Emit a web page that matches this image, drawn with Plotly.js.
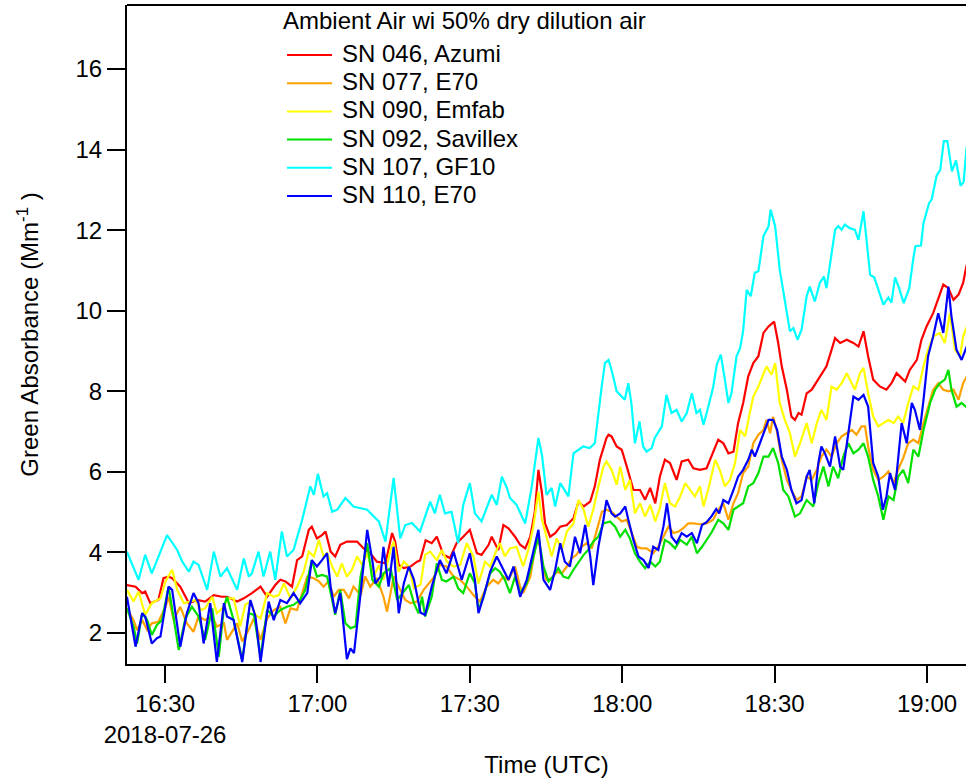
<!DOCTYPE html>
<html>
<head>
<meta charset="utf-8">
<script src="https://cdn.plot.ly/plotly-3.0.1.min.js"></script>
<style>html,body{margin:0;padding:0;background:#fff;}#chart{width:966px;height:779px;}</style>
</head>
<body>
<div id="chart"></div>
<script>
// Time axis: minutes after 2018-07-26 16:30 UTC
const baseTime = "2018-07-26 16:30:00";
const legendTitle = "Ambient Air wi 50% dry dilution air";
const seriesNames = ["SN 046, Azumi", "SN 077, E70", "SN 090, Emfab", "SN 092, Savillex", "SN 107, GF10", "SN 110, E70"];
const seriesColors = ["#ff0000", "#ffa200", "#ffff00", "#00e000", "#00ffff", "#0000ff"];

const sn046_t = [-7.5,-5.8,-4.5,-3.9,-2.9,-1.3,-0.3,0.7,1.4,3.0,4.7,6.3,7.9,9.6,11.2,12.2,14.2,15.5,17.1,18.8,20.1,21.7,22.7,23.7,25.0,26.0,27.0,28.3,28.9,29.9,30.9,31.6,32.6,33.5,34.5,35.8,37.8,39.1,40.4,41.7,43.4,44.7,45.3,46.0,47.0,48.3,49.6,50.2,51.3,52.5,53.5,54.8,56.1,57.4,58.7,60.0,61.4,62.3,63.7,64.3,65.6,66.6,67.6,68.9,69.9,70.9,71.9,72.8,73.5,74.2,74.8,75.8,76.8,77.8,79.1,80.4,81.4,82.4,83.7,84.6,85.6,86.9,87.3,87.9,88.9,89.9,90.9,92.2,93.5,94.5,95.5,96.5,97.4,98.4,99.4,100.7,101.7,103.0,104.0,105.3,106.6,107.6,108.9,109.9,110.9,111.9,112.8,113.8,114.8,115.8,116.8,117.8,118.8,119.9,120.7,121.4,122.4,123.3,124.0,124.7,125.3,126.3,127.3,128.3,129.2,130.2,131.2,131.9,132.9,134.2,135.5,136.5,137.5,138.4,139.4,140.7,142.0,143.0,144.0,144.7,145.7,146.6,148.0,148.9,149.9,151.2,152.2,153.2,154.2,155.2,156.2,157.1,157.8];
const sn046_v = [3.19,3.15,2.99,3.03,2.74,2.82,3.36,3.40,3.36,3.15,2.74,2.82,2.78,2.94,2.90,2.90,2.78,2.86,2.99,3.15,2.90,3.19,3.32,3.28,3.15,3.81,3.90,4.56,4.64,4.35,4.43,4.52,4.02,3.90,4.19,4.27,4.27,4.10,3.98,3.77,3.73,4.48,4.27,3.69,3.61,3.65,3.77,3.80,4.30,4.23,4.39,3.94,3.86,4.23,4.39,4.56,3.98,3.94,4.19,4.39,4.06,4.68,4.60,4.39,4.19,4.10,4.39,5.02,6.05,5.47,4.72,4.39,4.48,4.64,4.68,4.85,5.26,5.14,5.26,5.64,6.30,6.84,6.92,6.88,6.63,6.55,6.13,5.55,5.55,5.31,5.60,5.22,5.88,6.30,6.22,5.80,6.26,6.30,6.09,6.05,6.09,6.38,6.80,6.71,6.46,6.50,7.21,7.71,8.37,8.70,8.87,9.45,9.61,9.73,9.20,8.62,8.04,7.37,7.29,7.46,7.42,7.95,8.04,8.24,8.41,8.62,9.03,9.32,9.20,9.28,9.20,9.11,9.49,8.87,8.29,8.12,8.04,8.20,8.45,8.37,8.24,8.53,8.78,9.28,9.61,9.94,10.27,10.65,10.56,10.27,10.40,10.69,11.14];

const sn077_t = [-7.5,-6.2,-5.5,-4.5,-3.5,-2.6,-1.3,0.1,0.7,1.7,3.0,4.3,5.6,6.6,7.9,9.3,10.2,11.6,12.2,13.2,14.2,15.2,16.1,17.5,18.8,20.1,21.4,22.7,23.7,24.7,26.0,27.0,28.0,29.3,30.3,31.2,32.2,33.2,34.2,35.2,36.2,37.1,38.5,39.4,40.4,41.7,43.0,43.7,45.0,46.0,47.3,48.3,49.6,50.9,52.8,54.1,55.4,56.8,58.1,59.4,60.7,62.0,63.3,64.6,65.6,66.6,67.6,68.9,69.9,70.5,71.9,72.8,73.5,74.2,75.1,76.1,77.1,78.1,79.1,80.1,81.0,82.0,83.0,84.0,85.0,86.0,86.9,87.9,88.9,89.9,90.9,91.9,92.9,93.8,94.8,96.1,97.1,98.1,99.1,100.1,101.1,102.0,103.0,104.0,105.2,106.6,107.9,108.9,109.9,110.9,111.9,112.8,113.8,114.8,115.8,116.8,117.8,118.4,119.1,119.7,120.4,121.4,122.4,123.3,124.3,125.3,126.3,127.3,128.3,129.2,130.2,131.2,132.2,133.2,134.2,135.2,136.1,137.1,137.8,138.4,139.4,140.4,141.4,142.4,143.4,144.3,145.3,146.3,147.3,148.3,149.3,150.3,151.2,152.2,153.2,154.2,155.2,156.2,157.1,157.8];
const sn077_v = [2.61,2.32,2.07,2.32,2.07,2.24,2.28,2.65,2.90,2.32,2.65,2.24,2.03,2.41,2.32,2.41,2.16,2.24,1.83,2.03,2.24,1.79,1.99,2.36,1.83,2.36,2.57,2.65,2.24,2.61,2.57,2.99,3.40,3.36,3.28,3.15,3.28,2.90,3.07,3.07,2.86,3.15,2.94,3.40,3.15,3.36,2.90,2.53,3.40,3.15,2.82,2.74,2.78,3.07,3.36,3.69,3.65,3.40,3.32,3.15,2.94,2.78,3.15,3.32,3.23,3.40,3.32,3.65,3.15,2.99,3.40,4.06,4.39,3.73,3.32,3.36,3.52,3.48,3.65,3.86,3.94,4.14,4.23,4.10,4.56,5.01,5.06,5.01,4.89,4.77,4.81,4.48,4.14,4.10,4.10,3.98,4.14,4.39,4.64,4.48,4.52,4.60,4.72,4.72,4.70,4.72,4.81,5.06,5.22,4.81,5.22,5.47,5.97,6.13,6.71,6.92,7.04,7.29,6.96,7.37,7.04,6.30,5.80,5.55,5.30,5.39,5.88,5.80,6.05,6.38,6.55,6.38,6.71,6.88,6.96,7.04,6.92,7.13,7.13,6.63,6.05,5.80,5.88,6.01,5.72,6.05,6.34,6.71,6.80,6.71,7.21,7.62,8.04,8.20,8.04,8.00,8.04,7.79,8.20,8.37];

const sn090_t = [-7.5,-6.2,-5.2,-3.9,-2.6,-0.9,0.1,1.4,2.4,3.7,5.0,6.0,7.0,7.9,9.3,10.2,11.6,12.2,13.5,14.8,15.8,16.8,17.8,18.8,20.1,21.4,22.4,23.4,24.7,26.0,27.3,28.3,29.3,30.3,31.2,31.9,32.9,33.9,34.8,35.8,36.8,37.8,38.8,39.8,41.1,42.1,43.0,44.4,45.0,46.0,47.0,48.0,49.0,50.3,51.2,52.2,53.5,54.5,55.5,56.8,58.1,59.4,60.7,61.7,63.0,64.0,65.0,65.9,66.9,67.9,69.2,70.5,71.5,72.5,73.5,74.2,75.1,76.1,77.1,78.1,79.1,80.4,81.4,82.4,83.3,84.3,85.3,86.3,86.9,87.9,88.9,89.6,90.6,91.5,92.5,93.5,94.5,95.5,96.5,97.4,98.4,99.4,100.4,101.4,102.4,103.4,104.3,105.3,106.0,106.9,108.3,109.2,110.2,111.2,112.2,113.2,114.2,115.1,115.8,116.8,117.8,118.4,119.4,120.1,121.0,122.0,123.0,124.0,125.0,126.3,127.3,128.3,129.2,130.2,131.2,132.2,133.2,134.2,134.8,135.8,136.8,137.5,138.4,139.4,140.4,141.4,142.4,143.4,144.3,145.3,146.3,147.3,148.3,149.3,150.2,151.2,152.5,153.5,154.5,155.5,156.5,157.1,157.8];
const sn090_v = [3.07,2.78,3.03,2.45,2.74,2.86,3.28,3.57,3.07,2.74,2.78,2.82,2.57,2.61,2.90,2.49,2.65,2.86,2.86,2.16,2.70,2.78,2.45,2.36,2.99,2.90,2.94,3.23,2.86,3.15,3.52,4.02,3.90,4.31,3.90,3.98,3.65,3.40,3.73,3.40,3.57,3.90,3.69,3.98,3.40,3.69,3.32,4.06,4.27,3.52,3.77,3.65,3.11,3.20,3.94,4.02,3.81,4.06,3.77,3.65,3.69,4.23,3.90,3.23,3.77,3.65,3.98,4.23,3.90,4.10,4.14,3.65,4.06,4.64,5.51,4.81,4.39,3.90,4.35,4.06,4.52,4.72,5.30,5.06,4.64,5.06,5.64,6.13,6.26,6.05,5.68,6.13,5.55,5.80,4.97,5.22,4.89,5.18,4.77,5.10,5.72,5.22,5.14,5.39,5.72,5.55,5.39,5.64,5.14,5.55,6.30,6.05,5.64,5.80,6.22,7.04,6.88,7.46,7.87,8.12,8.45,8.62,8.41,8.70,7.71,7.29,6.96,6.38,6.71,7.21,6.71,7.21,7.54,7.29,8.12,8.04,8.20,8.45,8.29,8.04,8.45,8.58,7.95,7.37,7.13,7.21,7.29,7.21,7.37,7.21,7.71,8.12,8.04,8.62,9.03,9.36,9.45,9.20,9.94,9.03,8.87,9.36,9.60];

const sn092_t = [-7.5,-6.2,-5.5,-4.5,-3.5,-2.6,-1.6,-0.6,0.7,1.7,2.7,4.0,5.3,6.6,7.9,9.3,10.6,11.6,12.2,13.5,15.2,16.5,17.5,18.8,20.1,21.4,22.7,24.0,25.3,26.6,27.6,28.9,29.9,30.9,31.9,32.9,33.5,34.5,35.5,36.5,37.5,38.5,39.8,40.8,42.1,43.0,44.4,45.7,46.7,48.0,49.0,49.9,50.6,51.2,52.5,53.5,54.5,55.4,56.8,57.7,58.7,60.0,61.0,61.7,62.7,64.0,65.0,65.9,66.9,67.9,68.9,69.9,71.2,72.5,73.5,74.5,75.5,76.4,77.4,78.4,79.4,80.4,81.4,82.4,83.3,84.3,85.3,86.3,87.6,88.6,89.6,90.6,91.5,92.5,93.5,94.5,95.5,96.5,97.4,98.4,99.4,100.4,101.4,102.7,103.7,104.7,105.7,106.6,107.6,108.9,109.9,110.9,111.9,112.8,113.8,114.8,115.8,116.8,117.8,118.8,119.7,120.7,121.7,122.7,124.0,125.0,126.3,127.6,128.6,129.6,130.6,131.5,132.5,133.5,134.5,135.5,136.5,137.5,138.4,139.4,140.4,141.4,142.4,143.4,144.3,145.3,146.3,147.3,148.3,149.3,150.6,151.6,152.5,153.5,154.2,154.8,155.8,156.8,157.8];
const sn092_v = [2.61,2.16,1.74,2.49,2.32,1.95,2.20,2.32,3.15,2.41,1.58,2.36,2.65,2.41,1.83,2.61,1.41,2.65,2.90,2.32,1.33,2.49,2.45,1.41,2.57,2.41,2.57,2.65,2.70,2.82,3.07,3.81,3.40,3.44,3.40,2.82,2.45,3.07,2.24,2.12,2.16,3.40,4.23,3.32,3.15,3.48,3.61,2.82,2.99,3.19,2.74,2.49,2.90,2.41,2.90,3.73,3.32,3.28,3.40,3.11,2.99,3.48,3.23,2.57,2.90,3.48,3.61,3.52,3.32,2.99,3.40,2.99,3.23,3.90,4.39,3.65,3.28,3.40,3.61,3.40,3.36,3.57,3.77,3.94,4.06,4.27,4.39,4.72,4.77,4.64,4.39,4.56,4.35,3.98,3.77,3.61,3.77,3.65,3.77,4.31,4.23,4.10,4.31,4.19,4.39,3.98,4.14,4.31,4.50,4.81,4.72,4.56,5.06,5.14,5.22,5.64,5.72,5.97,6.38,6.38,6.59,6.22,5.55,5.39,4.89,4.97,5.30,5.14,5.72,6.13,5.64,6.13,5.84,6.38,6.71,6.46,6.55,6.71,6.38,5.80,5.39,4.81,5.39,5.30,5.88,6.05,5.72,6.55,6.38,7.04,7.71,8.04,8.20,8.29,8.53,8.04,7.62,7.71,7.60];

const sn107_t = [-7.5,-5.2,-3.9,-2.6,0.4,2.4,3.4,4.7,5.6,6.6,8.3,9.6,10.9,12.2,14.2,15.5,16.5,17.1,18.4,19.4,20.7,21.7,23.0,24.0,25.3,27.0,28.6,29.3,30.1,31.2,31.9,32.9,33.9,35.5,37.1,38.5,39.8,41.1,42.1,43.4,45.0,46.3,47.3,48.6,50.2,52.2,53.1,54.1,55.1,56.4,57.7,58.7,60.0,61.0,62.3,63.3,64.3,65.3,66.3,67.3,67.9,69.2,70.9,72.2,73.5,74.2,75.1,76.1,76.8,77.8,78.7,79.4,80.4,82.3,83.6,84.6,86.0,86.6,87.3,87.9,88.9,89.9,90.5,91.2,91.8,92.5,93.4,94.1,94.8,95.8,96.4,97.8,98.7,99.7,100.7,101.7,102.7,103.7,104.6,105.3,106.0,106.9,107.9,108.6,109.4,110.2,110.9,111.5,112.5,113.2,113.8,114.5,115.3,116.1,116.8,117.8,118.8,119.2,120.1,121.0,122.0,123.0,123.7,124.5,125.3,126.3,126.9,127.9,128.9,129.7,130.2,131.2,131.9,132.5,133.2,133.8,134.8,135.8,136.5,137.5,138.1,138.8,139.6,140.4,141.4,142.4,143.0,143.7,144.5,145.4,146.5,147.3,147.7,148.8,149.3,150.4,150.9,151.9,152.6,153.3,154.0,154.9,155.7,156.6,157.2,157.8];
const sn107_v = [4.02,3.32,3.94,3.48,4.43,4.06,3.77,3.52,3.77,3.69,3.07,4.02,3.40,3.61,3.07,3.85,3.40,3.48,4.02,3.40,4.02,3.32,4.52,3.90,4.06,4.81,5.64,5.43,5.95,5.39,5.47,5.01,5.06,5.35,5.14,5.10,5.06,4.89,4.77,4.27,5.85,4.35,4.68,4.73,4.52,5.26,4.97,5.43,4.97,5.01,4.23,5.18,5.72,4.97,4.77,5.10,5.43,5.18,5.88,5.60,5.35,5.18,4.72,5.64,6.84,6.42,5.43,5.60,5.14,5.72,5.55,5.39,6.46,6.63,6.59,6.71,8.16,8.70,8.78,8.53,8.00,7.87,7.79,8.20,7.70,6.71,7.25,6.63,6.50,6.59,6.84,7.13,7.91,7.46,7.54,7.25,7.46,7.95,7.46,7.54,7.17,7.60,8.10,8.66,8.91,8.29,7.71,7.95,8.87,9.07,9.50,10.52,10.36,10.94,10.98,11.85,12.10,12.51,12.10,11.02,10.27,9.49,9.57,9.28,9.53,10.36,10.60,10.23,10.69,10.85,10.56,11.35,12.01,12.10,12.01,12.14,12.05,12.01,11.76,12.47,11.72,10.89,10.83,10.52,10.15,10.33,10.20,10.83,10.56,10.19,10.56,11.30,11.60,11.62,12.18,12.67,12.76,13.36,13.50,14.21,14.21,13.46,13.73,13.10,13.20,14.08];

const sn110_t = [-7.5,-6.5,-5.8,-4.5,-3.9,-2.6,-1.6,-0.9,0.1,0.7,1.4,2.4,3.0,4.3,5.6,6.6,7.6,8.9,10.2,11.6,12.2,13.5,15.2,16.8,17.8,18.8,20.4,21.4,22.7,24.0,25.3,26.6,28.0,28.9,29.9,30.9,31.9,32.6,33.5,34.5,35.8,36.5,37.2,38.5,39.8,40.8,41.4,42.4,43.0,44.0,45.0,46.0,47.0,48.0,49.0,50.3,51.2,52.5,54.1,55.4,56.8,58.4,60.0,61.0,61.7,62.7,64.0,65.3,66.3,67.6,68.6,69.9,71.2,72.5,73.5,74.5,75.8,76.8,77.8,78.7,79.7,80.7,81.7,82.7,83.7,84.3,85.3,86.3,86.9,87.9,88.6,89.6,90.6,91.2,92.2,93.2,94.2,95.2,96.1,97.1,98.1,98.8,99.7,100.7,101.7,102.7,103.7,104.7,105.7,106.6,107.6,108.5,109.1,109.9,110.9,111.9,112.8,113.8,114.8,115.5,116.1,117.1,118.1,118.8,119.7,120.5,121.4,122.4,123.3,124.3,125.3,126.3,126.9,127.8,128.6,129.2,129.9,130.9,131.9,132.9,133.5,134.5,135.5,136.5,137.5,138.4,139.4,140.4,141.3,142.0,142.7,143.7,144.3,145.0,146.0,147.0,147.6,148.6,149.3,150.2,151.2,152.2,153.2,154.2,154.8,155.8,156.8,157.8];
const sn110_v = [2.90,2.16,1.66,2.49,2.41,1.74,1.87,1.91,2.70,3.15,3.07,2.16,1.66,2.49,2.99,2.74,1.74,2.74,1.28,2.74,2.41,2.32,1.28,2.82,2.41,1.28,2.78,2.32,2.82,2.74,2.99,2.74,2.99,3.81,3.65,3.81,3.98,3.15,2.49,2.99,1.35,1.62,1.50,2.99,4.56,3.81,3.23,3.40,4.14,3.15,4.14,2.49,3.23,3.65,3.32,2.50,2.45,3.15,3.81,3.48,4.02,3.32,3.98,3.32,2.49,2.90,3.52,3.90,3.65,3.32,3.65,2.90,3.32,3.98,4.56,3.32,3.07,3.57,4.23,3.77,3.65,4.39,3.98,4.68,3.90,3.19,4.14,4.81,5.30,4.97,4.89,4.97,5.14,4.81,4.31,3.90,3.81,3.61,4.14,4.06,4.64,5.22,4.39,4.23,4.48,4.39,4.48,4.23,4.68,4.75,4.90,5.08,4.97,5.30,5.22,5.55,5.88,6.05,6.30,6.55,6.38,6.71,7.04,7.29,7.29,7.04,6.38,6.05,5.55,5.22,5.30,5.88,6.05,5.22,6.22,6.63,6.46,6.13,6.88,6.13,6.05,6.96,7.87,7.79,7.91,7.62,6.22,5.88,5.06,5.39,5.97,5.55,6.38,7.21,6.71,7.71,7.54,7.04,7.79,8.87,9.36,9.94,9.45,10.60,9.86,9.03,8.78,9.11];

const seriesT = [sn046_t, sn077_t, sn090_t, sn092_t, sn107_t, sn110_t];
const seriesV = [sn046_v, sn077_v, sn090_v, sn092_v, sn107_v, sn110_v];

function toTime(m) {
  const b = Date.UTC(2018, 6, 26, 16, 30, 0);
  return new Date(b + Math.round(m * 60000)).toISOString().replace('T', ' ').slice(0, 19);
}

const FONT = "Arial, 'Liberation Sans', Helvetica, sans-serif";
const traces = seriesNames.map((n, i) => ({
  type: 'scatter', mode: 'lines', name: n,
  x: seriesT[i].map(toTime), y: seriesV[i],
  line: {color: seriesColors[i], width: 2.2},
  showlegend: false, hoverinfo: 'x+y+name'
}));

// plot area in pixels: x 127..966, y 5..664
const L = 127, R = 966, T = 5, B = 664;
const px = x => (x - L) / (R - L);
const py = y => (B - y) / (B - T);

const shapes = [{type: 'line', xref: 'paper', yref: 'paper', x0: 0, x1: 1, y0: 1, y1: 1, line: {color: '#000', width: 2}}];
const annotations = [{
  xref: 'paper', yref: 'paper', x: px(281), y: py(21), xanchor: 'left', yanchor: 'middle',
  text: legendTitle, showarrow: false, font: {family: FONT, size: 24, color: '#000'}
}];
seriesNames.forEach((n, i) => {
  const yy = 55 + 28.2 * i;
  shapes.push({type: 'line', xref: 'paper', yref: 'paper', x0: px(287), x1: px(332), y0: py(yy), y1: py(yy),
    line: {color: seriesColors[i], width: 2}});
  annotations.push({xref: 'paper', yref: 'paper', x: px(340), y: py(yy - 1.5), xanchor: 'left', yanchor: 'middle',
    text: n, showarrow: false, font: {family: FONT, size: 24, color: '#000'}});
});

const layout = {
  width: 966, height: 779,
  margin: {l: L, r: 966 - R, t: T, b: 779 - B, pad: 0},
  paper_bgcolor: '#fff', plot_bgcolor: '#fff',
  font: {family: FONT, size: 24, color: '#000'},
  showlegend: false,
  xaxis: {
    type: 'date',
    range: [toTime(-7.48), toTime(157.68)],
    tick0: baseTime, dtick: 1800000,
    tickformat: '%H:%M\n%Y-%m-%d',
    ticks: 'outside', ticklen: 17, tickwidth: 2, tickcolor: '#000',
    showline: true, linecolor: '#000', linewidth: 2,
    showgrid: false, zeroline: false,
    tickfont: {family: FONT, size: 24, color: '#000'},
    title: {text: 'Time (UTC)', font: {family: FONT, size: 24, color: '#000'}, standoff: 9},
    automargin: false
  },
  yaxis: {
    range: [1.23, 17.59],
    tick0: 0, dtick: 2,
    ticks: 'outside', ticklen: 18, tickwidth: 2, tickcolor: '#000',
    showline: true, linecolor: '#000', linewidth: 2,
    showgrid: false, zeroline: false,
    tickfont: {family: FONT, size: 24, color: '#000'},
    title: {text: 'Green Absorbance (Mm<sup>-1</sup> )', font: {family: FONT, size: 24, color: '#000'}, standoff: 30},
    automargin: false
  },
  shapes: shapes,
  annotations: annotations
};

Plotly.newPlot('chart', traces, layout, {displayModeBar: false, staticPlot: true});
</script>
</body>
</html>
